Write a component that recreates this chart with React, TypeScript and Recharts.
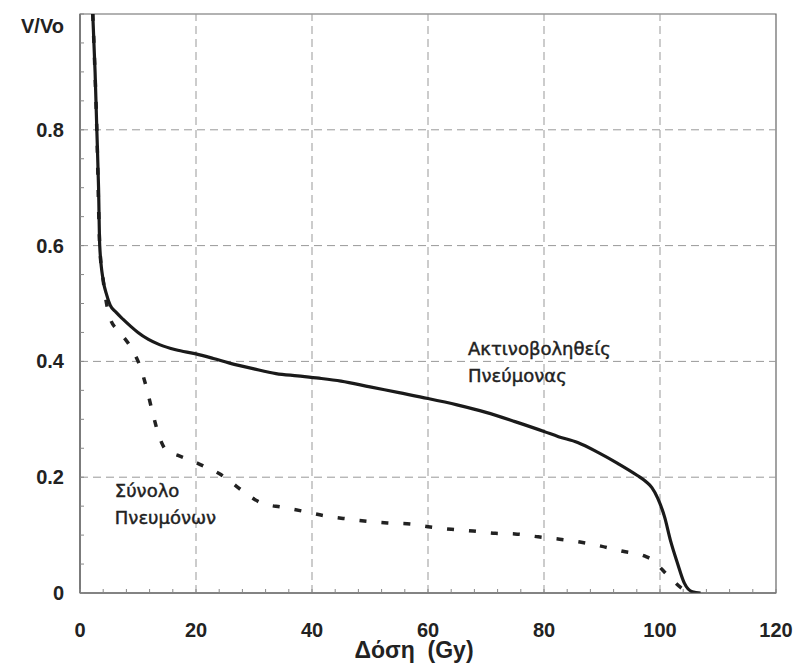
// Dose-volume histogram: irradiated lung (solid) vs total lungs (dashed).

import { LineChart, Line, XAxis, YAxis, ReferenceLine, ReferenceArea, ReferenceDot } from 'recharts'

const irradiatedDose = [2.2, 2.6, 2.9, 3.2, 3.4, 4.0, 4.6, 5.2, 6.2, 7.4, 8.7, 10, 11.8, 13.7, 16.5, 20, 23, 25.8, 30, 33.8, 37.5, 41.2, 45, 50, 55, 60, 65, 70, 75, 80, 82.5, 85.8, 89.3, 92.7, 96.1, 97.5, 98.6, 99.6, 100.8, 101.8, 103, 104.2, 105.6, 107]
const irradiatedVol = [1.0, 0.9, 0.8, 0.7, 0.6, 0.54, 0.515, 0.497, 0.485, 0.473, 0.461, 0.45, 0.438, 0.429, 0.42, 0.413, 0.405, 0.397, 0.387, 0.379, 0.375, 0.371, 0.366, 0.356, 0.346, 0.336, 0.325, 0.312, 0.296, 0.279, 0.27, 0.26, 0.243, 0.224, 0.203, 0.193, 0.182, 0.164, 0.131, 0.091, 0.052, 0.017, 0.002, 0]

const totalDose = [2.2, 2.9, 3.4, 4.0, 5.2, 6.7, 8.2, 9.4, 10.3, 11.5, 12.5, 13.7, 15, 16.8, 20.3, 22, 24.2, 26, 27.8, 31.4, 34.9, 38.6, 42.4, 46, 49.4, 53, 57, 60.4, 64, 67.8, 71.6, 75, 79, 82.7, 86.2, 89.8, 93.6, 97.3, 99, 100.4, 102, 103.5, 105]
const totalVol = [1.0, 0.8, 0.6, 0.54, 0.474, 0.452, 0.433, 0.413, 0.393, 0.353, 0.312, 0.269, 0.245, 0.238, 0.224, 0.216, 0.205, 0.192, 0.178, 0.155, 0.148, 0.141, 0.133, 0.128, 0.124, 0.121, 0.119, 0.114, 0.11, 0.107, 0.103, 0.102, 0.097, 0.093, 0.088, 0.081, 0.072, 0.064, 0.055, 0.04, 0.024, 0.01, 0]

const xTicks = [0, 4, 8, 12, 16, 20, 24, 28, 32, 36, 40, 44, 48, 52, 56, 60, 64, 68, 72, 76, 80, 84, 88, 92, 96, 100, 104, 108, 112, 116, 120]
const xLabels = [0, 20, 40, 60, 80, 100, 120]
const yTicks = [0, 0.05, 0.1, 0.15, 0.2, 0.25, 0.3, 0.35, 0.4, 0.45, 0.5, 0.55, 0.6, 0.65, 0.7, 0.75, 0.8, 0.85, 0.9, 0.95, 1]
const yLabels = [0, 0.2, 0.4, 0.6, 0.8]
const gridX = [20, 40, 60, 80, 100]
const gridY = [0.2, 0.4, 0.6, 0.8]

const irradiated = irradiatedDose.map((x, i) => ({ x, v: irradiatedVol[i] }))
const total = totalDose.map((x, i) => ({ x, v: totalVol[i] }))

const labelFont = "'Liberation Sans', Arial, sans-serif"
const noteFont = "'DejaVu Sans', sans-serif"

const isLabel = (list: number[], v: number) => list.some((l) => Math.abs(l - v) < 1e-6)

function XTick({ x, y, payload }: any) {
  const v = payload.value
  return (
    <g>
      <line x1={x} x2={x} y1={y} y2={y - 4} stroke="#888" strokeWidth={1} />
      {isLabel(xLabels, v) && (
        <text x={x} y={y + 44} textAnchor="middle" fontFamily={labelFont} fontWeight="bold" fontSize={20} fill="#222">
          {v}
        </text>
      )}
    </g>
  )
}

function YTick({ x, y, payload }: any) {
  const v = payload.value
  return (
    <g>
      <line x1={x} x2={x + 4} y1={y} y2={y} stroke="#888" strokeWidth={1} />
      {isLabel(yLabels, v) && (
        <text x={x - 16} y={y + 7} textAnchor="end" fontFamily={labelFont} fontWeight="bold" fontSize={20} fill="#222">
          {v}
        </text>
      )}
      {v === 1 && (
        <text x={x - 16} y={y + 19} textAnchor="end" fontFamily={labelFont} fontWeight="bold" fontSize={20} fill="#222">
          V/Vo
        </text>
      )}
    </g>
  )
}

function Note({ cx, cy, lines }: any) {
  return (
    <text x={cx} y={cy} fontFamily={noteFont} fontSize={18} fill="#222" stroke="#222" strokeWidth={0.45}>
      {lines.map((l: string, i: number) => (
        <tspan key={l} x={cx} dy={i === 0 ? 0 : 27}>
          {l}
        </tspan>
      ))}
    </text>
  )
}

export default function App() {
  return (
    <div style={{ width: 796, height: 664, background: '#fff' }}>
      <style>{'body{margin:0}'}</style>
      <LineChart width={796} height={664} margin={{ top: 14, right: 20, left: 0, bottom: 0 }}>
        <XAxis
          type="number"
          dataKey="x"
          domain={[0, 120]}
          ticks={xTicks}
          interval={0}
          tick={<XTick />}
          tickLine={false}
          tickSize={0}
          tickMargin={0}
          axisLine={{ stroke: '#555' }}
          height={71}
          allowDataOverflow
          label={{
            value: 'Δόση\u00A0\u00A0(Gy)',
            position: 'insideBottom',
            offset: 6,
            dx: -14,
            style: { fontFamily: labelFont, fontWeight: 'bold', fontSize: 23, fill: '#222' },
          }}
        />
        <YAxis
          type="number"
          dataKey="v"
          domain={[0, 1]}
          ticks={yTicks}
          interval={0}
          tick={<YTick />}
          tickLine={false}
          tickSize={0}
          tickMargin={0}
          axisLine={{ stroke: '#555' }}
          width={80}
          allowDataOverflow
        />
        {gridX.map((g) => (
          <ReferenceLine key={'gx' + g} x={g} stroke="#999" strokeDasharray="8 5" />
        ))}
        {gridY.map((g) => (
          <ReferenceLine key={'gy' + g} y={g} stroke="#999" strokeDasharray="8 5" />
        ))}
        <ReferenceArea x1={0} x2={120} y1={0} y2={1} fill="none" stroke="#666" strokeWidth={1.2} />
        <Line
          data={total}
          dataKey="v"
          type="monotone"
          stroke="#222"
          strokeWidth={3.5}
          strokeDasharray="7 15"
          dot={false}
          isAnimationActive={false}
        />
        <Line
          data={irradiated}
          dataKey="v"
          type="monotone"
          stroke="#1a1a1a"
          strokeWidth={3.2}
          dot={false}
          isAnimationActive={false}
        />
        <ReferenceDot x={66.9} y={0.411} r={0} shape={(p: any) => <Note {...p} lines={['Ακτινοβοληθείς', 'Πνεύμονας']} />} />
        <ReferenceDot x={6.0} y={0.166} r={0} shape={(p: any) => <Note {...p} lines={['Σύνολο', 'Πνευμόνων']} />} />
      </LineChart>
    </div>
  )
}
